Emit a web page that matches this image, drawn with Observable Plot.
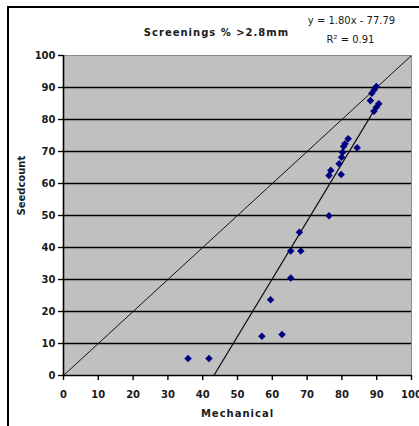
<!DOCTYPE html>
<html>
<head>
<meta charset="utf-8">
<script src="https://cdn.jsdelivr.net/npm/d3@7"></script>
<script src="https://cdn.jsdelivr.net/npm/@observablehq/plot@0.6"></script>
<style>
  html, body { margin: 0; padding: 0; background: #fff; }
  #chart svg { display: block; }
  .spaced text { letter-spacing: 1px; }
</style>
</head>
<body>
<div id="chart"></div>
<script>
// Data
const mechanical = [35.8, 41.8, 57.0, 62.8, 59.5, 65.3, 65.3, 68.2, 67.8, 76.3, 76.3, 76.8, 79.8, 79.2, 79.9, 80.2, 80.5, 80.9, 81.8, 84.4, 88.2, 88.6, 89.3, 89.9, 90.6, 89.9, 89.2];
const seedcount  = [5.3, 5.3, 12.3, 12.8, 23.7, 30.5, 38.9, 38.9, 44.8, 49.9, 62.5, 64.1, 62.8, 66.2, 68.2, 69.8, 71.6, 72.4, 74.0, 71.2, 85.9, 88.2, 89.3, 90.3, 84.9, 83.8, 82.6];
const xTicks = [0, 10, 20, 30, 40, 50, 60, 70, 80, 90, 100];
const yTicks = [0, 10, 20, 30, 40, 50, 60, 70, 80, 90, 100];
const slope = 1.80;
const intercept = -77.79;
const rSquared = 0.91;
const titleText = "Screenings % >2.8mm";
const xLabel = "Mechanical";
const yLabel = "Seedcount";

const points = mechanical.map((m, i) => ({x: m, y: seedcount[i]}));
const xMin = d3.min(mechanical), xMax = d3.max(mechanical);
const trend = [xMin, xMax].map(x => ({x, y: slope * x + intercept}));
const diagonal = [{x: 0, y: 0}, {x: 100, y: 100}];

const font = "DejaVu Sans, Verdana, sans-serif";
const txt = "#1a1a1a";

const chart = Plot.plot({
  width: 419,
  height: 426,
  marginLeft: 63,
  marginRight: 8,
  marginTop: 55,
  marginBottom: 51,
  style: {background: "#fff", fontFamily: font, overflow: "visible"},
  x: {domain: [0, 100]},
  y: {domain: [0, 100]},
  marks: [
    Plot.frame({fill: "#c0c0c0", stroke: "#8a8a8a", strokeWidth: 1}),
    Plot.ruleY(yTicks.filter(v => v > 0 && v < 100), {stroke: "#000", strokeWidth: 1.6}),
    Plot.line(diagonal, {x: "x", y: "y", stroke: "#111", strokeWidth: 1, clip: true}),
    Plot.line(trend, {x: "x", y: "y", stroke: "#111", strokeWidth: 1.2, clip: true}),
    Plot.dot(points, {x: "x", y: "y", symbol: "square", rotate: 45, r: 3, fill: "#000080", stroke: null}),
    Plot.ruleY([0], {stroke: "#000", strokeWidth: 1.6}),
    Plot.ruleX([0], {stroke: "#000", strokeWidth: 1.6}),
    Plot.axisX({ticks: xTicks, tickSize: 5, tickPadding: 10, tickFormat: d => d, label: null,
      fontSize: 10, fontWeight: "bold", fill: txt, stroke: "#000", strokeWidth: 1.4}),
    Plot.axisY({ticks: yTicks, tickSize: 5, tickPadding: 3, tickFormat: d => d, label: null,
      fontSize: 10, fontWeight: "bold", fill: txt, stroke: "#000", strokeWidth: 1.4}),
    Plot.text([xLabel], {frameAnchor: "bottom", dy: 41, fontSize: 10, fontWeight: "bold", fill: txt, className: "spaced"}),
    Plot.text([yLabel], {frameAnchor: "left", dx: -42, rotate: -90, fontSize: 10, fontWeight: "bold", fill: txt}),
    Plot.text([titleText], {frameAnchor: "top", dx: -21, dy: -27, fontSize: 10, fontWeight: "bold", fill: txt, className: "spaced"}),
    Plot.text([`y = ${slope.toFixed(2)}x - ${Math.abs(intercept).toFixed(2)}`], {frameAnchor: "top-right", dx: -60, dy: -39, textAnchor: "middle", fontSize: 10, fill: txt}),
    Plot.text([`R² = ${rSquared.toFixed(2)}`], {frameAnchor: "top-right", dx: -61, dy: -20, textAnchor: "middle", fontSize: 10, fill: txt})
  ]
});

// the chart area border of the original spreadsheet chart
d3.select(chart).insert("rect", ":first-child")
  .attr("x", 8).attr("y", 7).attr("width", 450).attr("height", 450)
  .attr("fill", "#fff").attr("stroke", "#000").attr("stroke-width", 2);

document.getElementById("chart").appendChild(chart);
</script>
</body>
</html>
